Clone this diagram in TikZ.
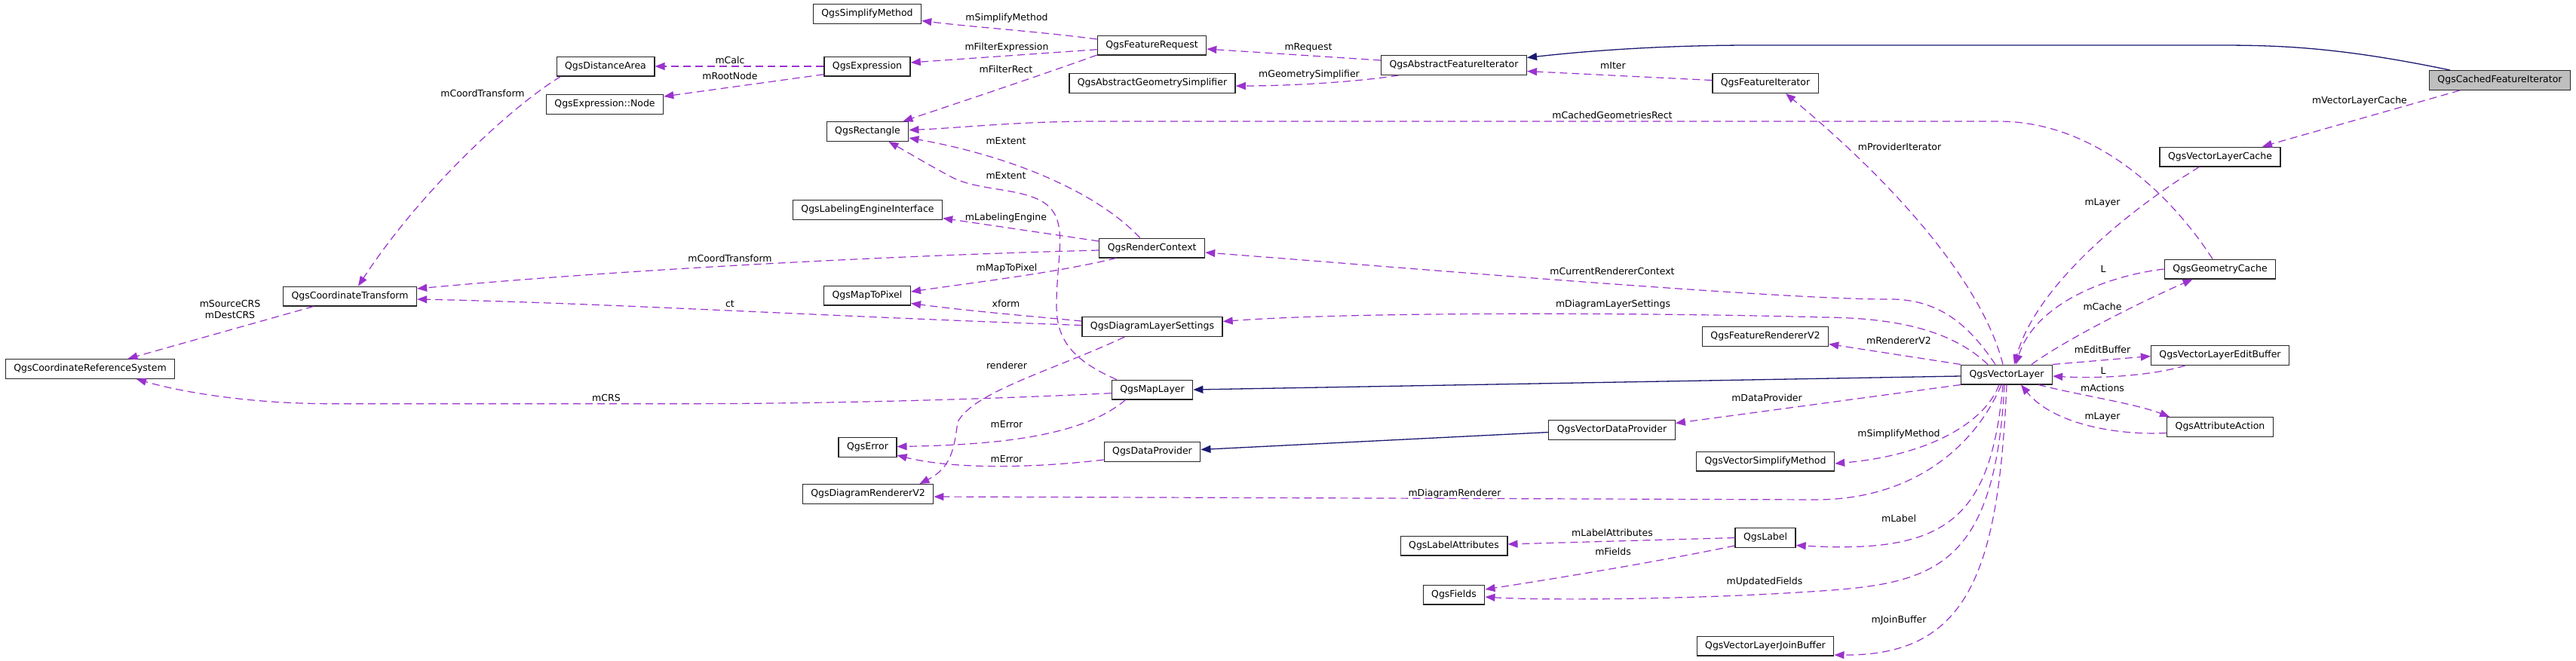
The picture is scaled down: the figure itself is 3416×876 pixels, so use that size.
\documentclass[tikz,border=0pt]{standalone}
\usepackage{fontspec}
\setmainfont{DejaVu Sans}
\usetikzlibrary{arrows.meta,calc}
\definecolor{usecol}{HTML}{9A32CD}
\definecolor{inhcol}{HTML}{191970}
\definecolor{curcol}{HTML}{BFBFBF}

\begin{document}
\begin{tikzpicture}[x=1pt,y=-1pt,font=\fontsize{12.5}{15}\selectfont,
  cls/.style={draw=black!85,line width=1.3pt,fill=white,minimum height=25.7pt,
              inner xsep=11pt,inner ysep=0pt},
  cur/.style={cls,fill=curcol},
  use/.style={draw=usecol,line width=1.2pt,dash pattern=on 10pt off 6pt,
              -{Triangle[length=13pt,width=10pt]}},
  inh/.style={draw=inhcol,line width=1.3pt,-{Triangle[length=13pt,width=10pt]}},
  lab/.style={inner sep=0pt}]
\useasboundingbox (0,0) rectangle (3416,876);
% ---------- classes ----------
\node[cur] (cfi) at (3315,106.5) {QgsCachedFeatureIterator};
\foreach \n/\x/\y/\t in {
  afi/1928/86.5/QgsAbstractFeatureIterator, fr/1527.5/60/QgsFeatureRequest,
  sm/1150/18.5/QgsSimplifyMethod, expr/1150/88/QgsExpression,
  da/803/88/QgsDistanceArea, exnode/802/138.5/QgsExpression::Node,
  ags/1528/110.5/QgsAbstractGeometrySimplifier, fi/2341/110.5/QgsFeatureIterator,
  rect/1150.5/174.5/QgsRectangle, lei/1150.5/278.5/QgsLabelingEngineInterface,
  rc/1527.7/329/QgsRenderContext, ct/464/393/QgsCoordinateTransform,
  crs/119.5/489.5/QgsCoordinateReferenceSystem, m2p/1150/392/QgsMapToPixel,
  dls/1528/433.5/QgsDiagramLayerSettings, ml/1528/517/QgsMapLayer,
  err/1150.5/593.5/QgsError, dp/1528/599.5/QgsDataProvider,
  vdp/2137.5/570.5/QgsVectorDataProvider, drv/1151/655.5/QgsDiagramRendererV2,
  vlc/2944/208/QgsVectorLayerCache, gc/2944/357/QgsGeometryCache,
  vl/2661/497/QgsVectorLayer, frv/2341/446.5/QgsFeatureRendererV2,
  eb/2944/471.5/QgsVectorLayerEditBuffer, aa/2944/566.5/QgsAttributeAction,
  vsm/2341/612/QgsVectorSimplifyMethod, la/1928/724/QgsLabelAttributes,
  lbl/2341/713.5/QgsLabel, flds/1928/789/QgsFields,
  jb/2341/857/QgsVectorLayerJoinBuffer}
  \node[cls] (\n) at (\x,\y) {\t};
% ---------- member labels ----------
\foreach \n/\x/\y/\t in {
  l1/3129/134/mVectorLayerCache, l2/2788/269/mLayer, l3/2789/357/L,
  l4/2788/407/mCache, l5/2138/153/mCachedGeometriesRect, l6/2788/464/mEditBuffer,
  l7/2789/492/L, l8/2788/515/mActions, l9/2788/553/mLayer, l10/2139/87/mIter,
  l11/1735/63/mRequest, l12/1736/99/mGeometrySimplifier, l13/1335/24/mSimplifyMethod,
  l14/1335/63/mFilterExpression, l15/1334/92/mFilterRect, l16/968/80/mCalc,
  l17/968/101/mRootNode, l18/640/124/mCoordTransform, l19/1334/187/mExtent,
  l20/1334/233/mExtent, l21/1334/289/mLabelingEngine, l22/968/343/mCoordTransform,
  l23/1335/356/mMapToPixel, l24/1334/403/xform, l25/968/403/ct,
  l26/1335/485/renderer, l27/804/528/mCRS, l28/1335/563/mError,
  l29/1335/609/mError, l30/1929/655/mDiagramRenderer, l31/2343/528/mDataProvider,
  l32/2518/576/mSimplifyMethod, l33/2518/688/mLabel, l34/2340/772/mUpdatedFields,
  l35/2518/823/mJoinBuffer, l36/2138/707/mLabelAttributes, l37/2139/732/mFields,
  l38/2518/452/mRendererV2, l39/2519/195/mProviderIterator,
  l40/2138/360/mCurrentRendererContext, l41/2139/404/mDiagramLayerSettings}
  \node[lab] (\n) at (\x,\y) {\t};
\node[lab,align=center] (l42) at (305,410.5) {mSourceCRS\\mDestCRS};
% ---------- inheritance ----------
\draw[inh] ($(cfi.north west)+(28,0)$) .. controls (3100,62) and (3020,60) .. (2941,60)
  -- (2323,60) .. controls (2200,60) and (2100,68) .. ($(afi.east)+(0,-10)$);
\draw[inh] ($(vl.west)+(0,2)$) -- (ml.east);
\draw[inh] ($(vdp.west)+(0,3)$) -- ($(dp.east)+(0,-3)$);
% ---------- usage ----------
\draw[use] ($(cfi.south west)+(41,0)$) -- ($(vlc.north)+(56,0)$);
\draw[use] ($(vlc.south west)+(53,0)$) .. controls (2820,280) and (2700,380) .. ($(vl.north)+(10,0)$);
\draw[use] ($(vl.north)+(33,0)$) .. controls (2740,450) and (2840,400) .. ($(gc.south west)+(38,0)$);
\draw[use] (gc.west) .. controls (2800,365) and (2700,400) .. ($(vl.north)+(12,0)$);
\draw[use] ($(gc.north)+(-10,0)$) .. controls (2880,260) and (2780,161) .. (2650,161)
  -- (1450,161) .. controls (1350,161) and (1270,170) .. ($(rect.east)+(0,-2)$);
\draw[use] (vl.north east) -- ($(eb.west)+(0,1)$);
\draw[use] ($(eb.south west)+(46,0)$) .. controls (2860,497) and (2790,503) .. ($(vl.east)+(0,2)$);
\draw[use] ($(vl.south east)+(-19,0)$) .. controls (2760,525) and (2830,535) .. ($(aa.north west)+(4,0)$);
\draw[use] ($(aa.west)+(0,8)$) .. controls (2800,578) and (2720,560) .. ($(vl.south)+(19,0)$);
\draw[use] ($(fi.west)+(0,-4)$) -- ($(afi.east)+(0,8)$);
\draw[use] ($(afi.west)+(0,-6.5)$) -- ($(fr.east)+(0,5)$);
\draw[use] ($(afi.south west)+(23.5,0)$) .. controls (1790,110) and (1700,114) .. ($(ags.east)+(0,3.5)$);
\draw[use] ($(fr.west)+(0,-8)$) .. controls (1380,42) and (1290,36) .. ($(sm.east)+(0,9)$);
\draw[use] ($(fr.west)+(0,5.7)$) -- ($(expr.east)+(0,-5)$);
\draw[use] ($(fr.west)+(0,13)$) .. controls (1380,100) and (1260,140) .. ($(rect.north east)+(-8,0)$);
\draw[use] (expr.west) -- (da.east);
\draw[use] ($(expr.west)+(0,10.7)$) -- ($(exnode.east)+(0,-10.5)$);
\draw[use] ($(da.south west)+(6,0)$) .. controls (680,140) and (560,250) .. ($(ct.north)+(11,0)$);
\draw[use] ($(ct.south west)+(41,0)$) -- ($(crs.north)+(50,0)$);
\draw[use] ($(rc.north)+(-16,0)$) .. controls (1450,250) and (1330,205) .. ($(rect.east)+(0,8.5)$);
\draw[use] ($(ml.north west)+(7,0)$) .. controls (1415,475) and (1400,445) .. (1401,400)
  .. controls (1402,340) and (1415,300) .. (1392,275) .. controls (1365,248) and (1300,255) .. (1262,235)
  .. controls (1230,218) and (1200,200) .. ($(rect.south east)+(-27,0)$);
\draw[use] ($(rc.west)+(0,-9)$) -- ($(lei.east)+(0,11)$);
\draw[use] ($(rc.west)+(0,3)$) .. controls (1150,340) and (800,360) .. ($(ct.east)+(0,-10)$);
\draw[use] ($(rc.south west)+(23,0)$) .. controls (1400,362) and (1290,375) .. ($(m2p.east)+(0,-5)$);
\draw[use] ($(dls.west)+(0,-7.5)$) .. controls (1350,418) and (1280,412) .. ($(m2p.east)+(0,10.5)$);
\draw[use] ($(dls.west)+(0,-2)$) .. controls (1100,420) and (800,402) .. ($(ct.east)+(0,4)$);
\draw[use] ($(dls.south west)+(57,0)$) .. controls (1400,490) and (1290,520) .. (1270,560)
  .. controls (1265,595) and (1262,620) .. ($(drv.north east)+(-19,0)$);
\draw[use] ($(ml.west)+(0,4.7)$) .. controls (1300,530) and (1100,535.7) .. (900,535.7)
  -- (440,535.7) .. controls (330,535.7) and (240,520) .. ($(crs.south)+(61.5,0)$);
\draw[use] ($(ml.south west)+(19,0)$) .. controls (1440,575) and (1340,590) .. ($(err.east)+(0,-1)$);
\draw[use] ($(dp.west)+(0,10.5)$) .. controls (1380,620) and (1270,624) .. ($(err.east)+(0,10.5)$);
\draw[use] ($(vl.south)+(-7,0)$) .. controls (2620,590) and (2540,662) .. (2410,663) -- ($(drv.east)+(0,3.5)$);
\draw[use] (vl.south west) -- ($(vdp.east)+(0,-9)$);
\draw[use] ($(vl.south)+(-10,0)$) .. controls (2630,565) and (2550,605) .. ($(vsm.east)+(0,3)$);
\draw[use] ($(vl.south)+(-5,0)$) .. controls (2640,690) and (2580,735) .. ($(lbl.east)+(0,10)$);
\draw[use] ($(vl.south)+(-3,0)$) .. controls (2645,760) and (2560,775) .. (2400,785)
  .. controls (2250,795) and (2050,797) .. ($(flds.east)+(0,3)$);
\draw[use] (vl.south) .. controls (2650,760) and (2610,870) .. ($(jb.east)+(0,12)$);
\draw[use] (lbl.west) -- ($(la.east)+(0,-2)$);
\draw[use] ($(lbl.west)+(0,10.5)$) .. controls (2200,745) and (2060,768) .. ($(flds.east)+(0,-7)$);
\draw[use] (vl.north west) -- ($(frv.east)+(0,10)$);
\draw[use] ($(vl.north)+(-5,0)$) .. controls (2630,380) and (2520,250) .. ($(fi.south)+(27,0)$);
\draw[use] ($(vl.north)+(-15,0)$) .. controls (2610,430) and (2570,395) .. (2500,397)
  .. controls (2350,397) and (1800,350) .. ($(rc.east)+(0,6)$);
\draw[use] ($(vl.north)+(-25,0)$) .. controls (2590,440) and (2520,422) .. (2420,421)
  .. controls (2200,415) and (1800,413) .. ($(dls.east)+(0,-7)$);
\end{tikzpicture}
\end{document}
